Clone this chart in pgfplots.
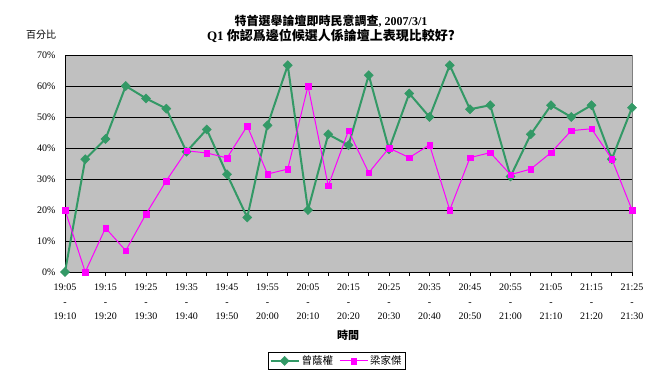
\documentclass[border=0pt]{standalone}
\usepackage{pgfplots}
\pgfplotsset{compat=1.18}
\usepackage{fontspec}
\setmainfont{Liberation Serif}
\newfontfamily\cjk{Noto Sans CJK TC}
\definecolor{sgreen}{HTML}{339966}
\definecolor{mag}{HTML}{FF00FF}
\definecolor{bggray}{HTML}{C0C0C0}
\definecolor{bordergray}{HTML}{808080}
\begin{document}
\begin{tikzpicture}
\begin{axis}[
  at={(65bp,107bp)}, anchor=south west,
  scale only axis, width=567bp, height=217bp,
  xmin=0, xmax=28, ymin=0, ymax=70,
  axis background/.style={fill=bggray, draw=bordergray, line width=0.8bp},
  axis x line*=bottom, axis y line*=left,
  x axis line style={-, black, line width=0.8bp},
  y axis line style={-, black, line width=0.8bp},
  xtick={0,2,...,28},
  minor xtick={1,3,...,27},
  xticklabels={{19:05\\-\\19:10},{19:15\\-\\19:20},{19:25\\-\\19:30},{19:35\\-\\19:40},{19:45\\-\\19:50},{19:55\\-\\20:00},{20:05\\-\\20:10},{20:15\\-\\20:20},{20:25\\-\\20:30},{20:35\\-\\20:40},{20:45\\-\\20:50},{20:55\\-\\21:00},{21:05\\-\\21:10},{21:15\\-\\21:20},{21:25\\-\\21:30}},
  xticklabel style={align=center, font={\fontsize{10bp}{14.5bp}\selectfont}, yshift=-4.5bp},
  xtick style={black, line width=0.8bp},
  minor tick length=4bp, major tick length=4bp,
  tick align=outside,
  ytick={0,10,...,70},
  yticklabels={0\%,10\%,20\%,30\%,40\%,50\%,60\%,70\%},
  yticklabel style={font={\fontsize{10bp}{12bp}\selectfont}, xshift=-2bp},
  ytick style={draw=none},
  ymajorgrids,
  major grid style={black, line width=0.8bp},
  legend style={at={(0.479,-0.410)}, anchor=center, line width=0.8bp,
    font={\cjk\fontsize{10.5bp}{12bp}\selectfont}, legend columns=2,
    inner sep=1.5bp,
    /tikz/every even column/.append style={column sep=4bp}},
  legend cell align=left,
  legend image code/.code={\draw[mark repeat=2,mark phase=2,#1] plot coordinates {(0bp,0bp) (14bp,0bp) (28bp,0bp)};},
  clip=false,
]
\addplot[sgreen, line width=2bp, mark=square*, mark size=3.2bp, mark options={rotate=45, line width=0.5bp}]
coordinates {(0,0) (1,36.4) (2,42.9) (3,60) (4,56) (5,52.7) (6,38.8) (7,46) (8,31.5) (9,17.6) (10,47.3) (11,66.7) (12,20) (13,44.4) (14,40.9) (15,63.5) (16,39.6) (17,57.6) (18,50) (19,66.7) (20,52.5) (21,53.8) (22,30.8) (23,44.4) (24,53.8) (25,50) (26,53.8) (27,36.4) (28,53)};
\addlegendentry{曾蔭權}
\addplot[color=mag, line width=1bp, mark=square*, mark size=2.8bp, mark options={line width=0.3bp, fill=mag, draw=mag}]
coordinates {(0,20) (1,0) (2,14.2) (3,6.9) (4,18.7) (5,29.4) (6,39.1) (7,38.4) (8,36.8) (9,47.1) (10,31.6) (11,33.2) (12,60) (13,27.8) (14,45.6) (15,32) (16,40) (17,36.9) (18,41) (19,20) (20,36.9) (21,38.5) (22,31.4) (23,33.2) (24,38.5) (25,45.6) (26,46.2) (27,36.5) (28,20)};
\addlegendentry{梁家傑}
\end{axis}
\node[font={\bfseries\fontsize{12bp}{14bp}\selectfont}] at (331bp,358bp) {{\cjk 特首選舉論壇即時民意調查}, 2007/3/1};
\node[font={\bfseries\fontsize{13bp}{15bp}\selectfont}] at (331bp,343bp) {Q1 {\cjk 你認爲邊位候選人係論壇上表現比較好?}};
\node[font={\cjk\fontsize{10bp}{12bp}\selectfont}] at (41bp,344bp) {百分比};
\node[font={\cjk\bfseries\fontsize{11bp}{13bp}\selectfont}] at (348bp,44bp) {時間};
\pgfresetboundingbox
\path[use as bounding box] (0,0) rectangle (661bp,379bp);
\end{tikzpicture}
\end{document}
